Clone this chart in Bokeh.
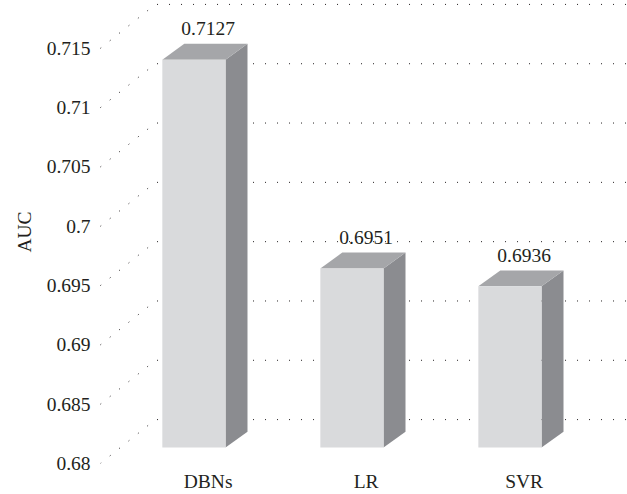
from bokeh.plotting import figure
from bokeh.models import Range1d, FixedTicker, ColumnDataSource
from bokeh.embed import file_html
from bokeh.resources import INLINE

# ---- data -------------------------------------------------------------
models = ["DBNs", "LR", "SVR"]
auc = [0.7127, 0.6951, 0.6936]
auc_text = ["0.7127", "0.6951", "0.6936"]
y_ticks = [0.68, 0.685, 0.69, 0.695, 0.7, 0.705, 0.71, 0.715]
y_tick_text = ["0.68", "0.685", "0.69", "0.695", "0.7", "0.705", "0.71", "0.715"]

# ---- pseudo-3D geometry (x in category units, y in AUC units) ---------
Y_BASE = 0.68
HALF_W = 0.2          # half width of a bar's front face
FACE_SHIFT = -0.09    # front face centre relative to its category label
LIFT = 0.00134        # floor rise between the front plane and the bar faces
DEPTH_X = 0.139       # bar depth, horizontal component
DEPTH_Y = 0.00134     # bar depth, vertical component
GRID_X0 = -0.682      # where the dotted grid starts on the front plane
WALL_X = -0.334       # where the dotted grid meets the back wall
WALL_DY = 0.0037      # vertical rise of the back wall
X_START, X_END = -0.694, 2.654
Y_END = 0.71903

FONT = "Liberation Serif"
INK = "#231f20"
FRONT, SIDE, TOP = "#d9dadc", "#8b8c90", "#a5a6a9"

p = figure(width=627, height=494, output_backend="svg", toolbar_location=None,
           x_range=Range1d(X_START, X_END), y_range=Range1d(Y_BASE, Y_END),
           min_border_left=98, min_border_right=0, min_border_top=0,
           min_border_bottom=29)
p.outline_line_color = None
p.xgrid.visible = False
p.ygrid.visible = False
p.background_fill_color = "white"
p.border_fill_color = "white"

# dotted floor-to-wall grid: diagonal from the front plane, then along the back wall
xs = [[GRID_X0, WALL_X, X_END] for _ in y_ticks]
ys = [[t, t + WALL_DY, t + WALL_DY] for t in y_ticks]
p.multi_line(xs, ys, line_color=INK, line_width=1, line_dash="1 11")

# bars: front face, side face and top face
idx = list(range(len(models)))
x0 = [i + FACE_SHIFT - HALF_W for i in idx]
x1 = [i + FACE_SHIFT + HALF_W for i in idx]
bottom = Y_BASE + LIFT
top = [v + LIFT for v in auc]

side_xs = [[a, a + DEPTH_X, a + DEPTH_X, a] for a in x1]
side_ys = [[bottom, bottom + DEPTH_Y, t + DEPTH_Y, t] for t in top]
top_xs = [[a, a + DEPTH_X, b + DEPTH_X, b] for a, b in zip(x0, x1)]
top_ys = [[t, t + DEPTH_Y, t + DEPTH_Y, t] for t in top]

p.patches(side_xs, side_ys, fill_color=SIDE, line_color=None)
p.patches(top_xs, top_ys, fill_color=TOP, line_color=None)
p.quad(left=x0, right=x1, bottom=bottom, top=top, fill_color=FRONT, line_color=None)

# value labels above each bar
lab = ColumnDataSource(dict(x=idx, y=[t + DEPTH_Y for t in top], text=auc_text))
p.text(x="x", y="y", text="text", source=lab, text_align="center",
       text_baseline="alphabetic", y_offset=-15, text_color=INK,
       text_font=FONT, text_font_size="19.5px")

# axes
p.xaxis.ticker = FixedTicker(ticks=idx)
p.xaxis.major_label_overrides = {i: m for i, m in zip(idx, models)}
p.yaxis.ticker = FixedTicker(ticks=y_ticks)
p.yaxis.major_label_overrides = {t: s for t, s in zip(y_ticks, y_tick_text)}
p.yaxis.axis_label = "AUC"
for ax in (p.xaxis[0], p.yaxis[0]):
    ax.axis_line_color = None
    ax.major_tick_line_color = None
    ax.minor_tick_line_color = None
    ax.major_tick_out = 0
    ax.major_tick_in = 0
    ax.minor_tick_out = 0
    ax.major_label_text_font = FONT
    ax.major_label_text_font_size = "19.5px"
    ax.major_label_text_color = INK
    ax.axis_label_text_font = FONT
    ax.axis_label_text_font_size = "19.5px"
    ax.axis_label_text_font_style = "normal"
    ax.axis_label_text_color = INK
p.xaxis.major_label_standoff = 7
p.yaxis.major_label_standoff = 8
p.yaxis.axis_label_standoff = 9

open("out.html", "w").write(file_html(p, INLINE))
